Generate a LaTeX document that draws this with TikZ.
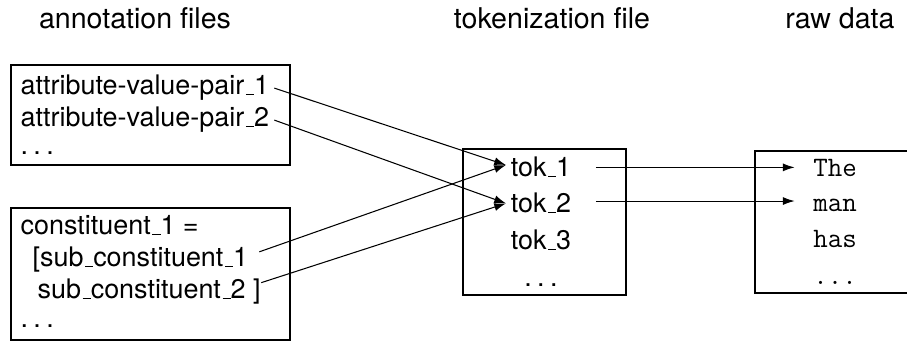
\documentclass[tikz,border=0pt]{standalone}
\usepackage{fontspec}
\setmainfont{TeX Gyre Heros}
\usetikzlibrary{arrows.meta}
\newcommand{\usc}{\leavevmode\kern.06em\vbox{\hrule width.3em}}
\newcommand{\dts}{.\kern.2em.\kern.2em.}
\tikzset{
	txt/.style={inner sep=0pt, anchor=base west},
	ctr/.style={inner sep=0pt, anchor=base},
	raw/.style={ctr, font=\ttfamily\fontsize{12}{14}\selectfont},
	link/.style={line width=0.45pt, -{Latex[length=5pt,width=3.4pt]}}
}
\begin{document}
\begin{tikzpicture}[font=\fontsize{11.5}{13}\selectfont, line width=0.55pt]
	\useasboundingbox (0,0) rectangle (13.605,5.145);
	\node[ctr, font=\fontsize{12.2}{14}\selectfont] (h1) at (2.025,4.71) {annotation files};
	\node[ctr, font=\fontsize{12.2}{14}\selectfont] (h2) at (8.28,4.71) {tokenization file};
	\node[ctr, font=\fontsize{12.2}{14}\selectfont] (h3) at (12.6,4.71) {raw data};

	\draw (0.165,2.67) rectangle (4.35,4.17);
	\node[txt] (a1) at (0.30,3.72) {attribute-value-pair\usc1};
	\node[txt] (a2) at (0.30,3.24) {attribute-value-pair\usc2};
	\node[txt] (a3) at (0.30,2.82) {\dts};

	\draw (0.165,0.045) rectangle (4.35,2.025);
	\node[txt] (c1) at (0.30,1.62) {constituent\usc1 =};
	\node[txt] (s1) at (0.48,1.14) {[sub\usc constituent\usc1};
	\node[txt] (s2) at (0.555,0.66) {sub\usc constituent\usc2 ]};
	\node[txt] (c4) at (0.30,0.225) {\dts};

	\draw (6.945,0.72) rectangle (9.39,2.91);
	\node[ctr] (t1) at (8.115,2.49) {tok\usc1};
	\node[ctr] (t2) at (8.115,1.95) {tok\usc2};
	\node[ctr] (t3) at (8.115,1.395) {tok\usc3};
	\node[ctr] (t4) at (8.115,0.84) {\dts};

	\draw (13.75,2.88) -| (11.325,0.75) -- (13.75,0.75);
	\node[raw] (r1) at (12.525,2.49) {The};
	\node[raw] (r2) at (12.525,1.965) {man};
	\node[raw] (r3) at (12.525,1.425) {has};
	\node[raw] (r4) at (12.525,0.87) {...};

	\draw[link] ([xshift=2pt]a1.east) -- ([xshift=-1.8pt,yshift=1pt]t1.west);
	\draw[link] ([xshift=2pt]a2.east) -- ([xshift=-1.8pt]t2.west);
	\draw[link] ([xshift=4.5pt,yshift=3.5pt]s1.east) -- ([xshift=-1.8pt,yshift=1pt]t1.west);
	\draw[link] ([yshift=4pt]s2.east) -- ([xshift=-1.8pt]t2.west);

	\draw[link] ([xshift=0.36cm]t1.east) -- ([xshift=-0.27cm]t1.east -| r1.west);
	\draw[link] ([xshift=0.36cm,yshift=1pt]t2.east) -- ([xshift=-0.27cm,yshift=1pt]t2.east -| r2.west);
\end{tikzpicture}
\end{document}
